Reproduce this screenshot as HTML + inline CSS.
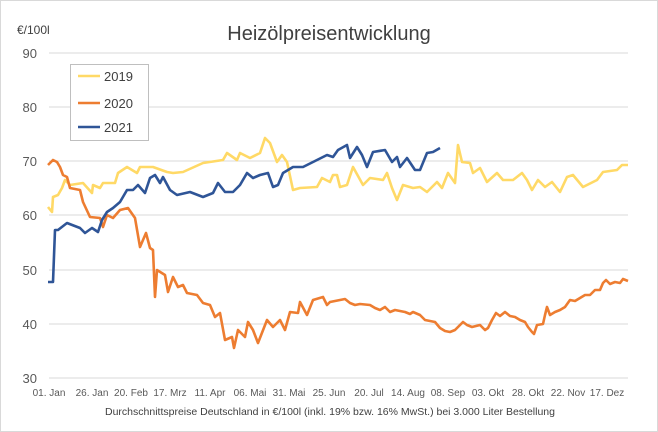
<!DOCTYPE html>
<html><head><meta charset="utf-8"><style>
html,body{margin:0;padding:0;background:#fff}
svg{display:block;font-family:"Liberation Sans",sans-serif}
</style></head><body>
<svg width="658" height="432" viewBox="0 0 658 432">
<rect x="0.5" y="0.5" width="657" height="431" fill="#fff" stroke="#d9d9d9"/>
<text x="329" y="40" text-anchor="middle" font-size="20" fill="#404040">Heizölpreisentwicklung</text>
<text x="17" y="34" font-size="12" fill="#404040">€/100l</text>
<g stroke="#d9d9d9" stroke-width="1">
<line x1="49" y1="53" x2="628" y2="53"/><line x1="49" y1="107" x2="628" y2="107"/>
<line x1="49" y1="161" x2="628" y2="161"/><line x1="49" y1="215" x2="628" y2="215"/>
<line x1="49" y1="270" x2="628" y2="270"/><line x1="49" y1="324" x2="628" y2="324"/>
<line x1="49" y1="378" x2="628" y2="378"/>
</g>
<g font-size="13" fill="#595959" text-anchor="end">
<text x="37" y="58">90</text><text x="37" y="112">80</text><text x="37" y="166">70</text>
<text x="37" y="220">60</text><text x="37" y="275">50</text><text x="37" y="329">40</text><text x="37" y="383">30</text>
</g>
<g font-size="10" fill="#595959" text-anchor="middle">
<text x="49" y="396">01. Jan</text><text x="92" y="396">26. Jan</text><text x="131" y="396">20. Feb</text>
<text x="170" y="396">17. Mrz</text><text x="210" y="396">11. Apr</text><text x="250" y="396">06. Mai</text>
<text x="289" y="396">31. Mai</text><text x="329" y="396">25. Jun</text><text x="369" y="396">20. Jul</text>
<text x="408" y="396">14. Aug</text><text x="448" y="396">08. Sep</text><text x="488" y="396">03. Okt</text>
<text x="528" y="396">28. Okt</text><text x="568" y="396">22. Nov</text><text x="607" y="396">17. Dez</text>
</g>
<text x="330" y="415" text-anchor="middle" font-size="10.5" fill="#404040">Durchschnittspreise Deutschland in €/100l (inkl. 19% bzw. 16%  MwSt.) bei 3.000 Liter Bestellung</text>
<g fill="none" stroke-width="2.6" stroke-linejoin="round">
<polyline stroke="#ffd966" points="48,207 52,212 53,197 58,195 62,188 65,180 70,185 83,183 92,193 93,185 100,188 103,183 115,183 118,173 127,167 137,173 140,167 153,167 167,172 173,173 183,172 203,163 223,160 227,153 237,160 240,153 250,158 260,153 265,138 270,143 277,162 282,155 287,162 293,190 300,188 317,187 322,178 330,182 333,175 337,175 340,187 347,185 353,167 363,185 370,178 383,180 387,173 392,188 397,200 403,185 413,188 420,187 427,192 437,182 442,188 448,173 455,183 458,145 462,162 470,163 473,173 480,168 487,182 497,173 503,180 513,180 522,173 527,180 532,190 538,180 545,187 552,182 560,192 567,177 573,175 583,187 597,180 603,172 617,170 622,165 628,165"/>
<polyline stroke="#ed7d31" points="48,165 53,160 57,162 60,167 63,175 67,177 70,188 80,190 83,202 90,217 100,218 103,227 107,215 113,218 120,210 128,208 135,218 140,247 146,233 150,248 153,250 155,297 157,270 165,275 168,292 173,277 178,287 183,285 187,293 197,295 203,303 210,305 215,317 220,313 225,340 232,337 234,348 238,330 245,337 248,322 253,330 258,343 267,320 273,327 280,320 285,330 290,312 298,313 300,302 307,315 313,300 323,297 327,305 330,302 340,300 345,299 350,303 355,305 360,304 370,305 375,308 380,310 385,307 390,312 395,310 405,312 410,314 413,312 420,315 425,320 435,322 440,328 445,331 450,332 455,330 460,325 463,322 467,325 472,327 480,325 485,330 488,328 492,320 496,313 500,316 505,312 510,316 515,317 520,320 525,322 528,327 532,332 534,334 537,325 543,324 545,315 547,307 550,315 555,312 560,310 565,307 570,300 575,301 580,298 585,295 590,295 595,290 600,290 603,283 606,280 610,284 615,282 620,283 623,279 628,281"/>
<polyline stroke="#2f5597" points="48,282 53,282 55,230 58,230 67,223 80,228 85,233 92,228 98,232 102,220 107,212 113,208 120,202 127,190 133,190 138,185 145,193 150,178 155,175 160,183 163,177 170,190 177,195 190,192 203,197 213,193 218,183 225,192 233,192 240,185 247,173 253,178 260,175 268,173 273,187 278,185 283,173 293,167 303,167 317,160 327,155 333,157 338,150 347,145 350,158 357,147 362,155 367,167 373,152 385,150 392,162 397,157 400,167 407,158 415,170 420,170 427,153 433,152 440,148"/>
</g>
<rect x="70.5" y="64.5" width="78" height="76" fill="#fff" stroke="#bfbfbf"/>
<g stroke-width="2.6">
<line x1="78" y1="76" x2="100" y2="76" stroke="#ffd966"/>
<line x1="78" y1="103" x2="100" y2="103" stroke="#ed7d31"/>
<line x1="78" y1="127" x2="100" y2="127" stroke="#2f5597"/>
</g>
<g font-size="13" fill="#404040">
<text x="104" y="81">2019</text><text x="104" y="108">2020</text><text x="104" y="132">2021</text>
</g>
</svg>
</body></html>
